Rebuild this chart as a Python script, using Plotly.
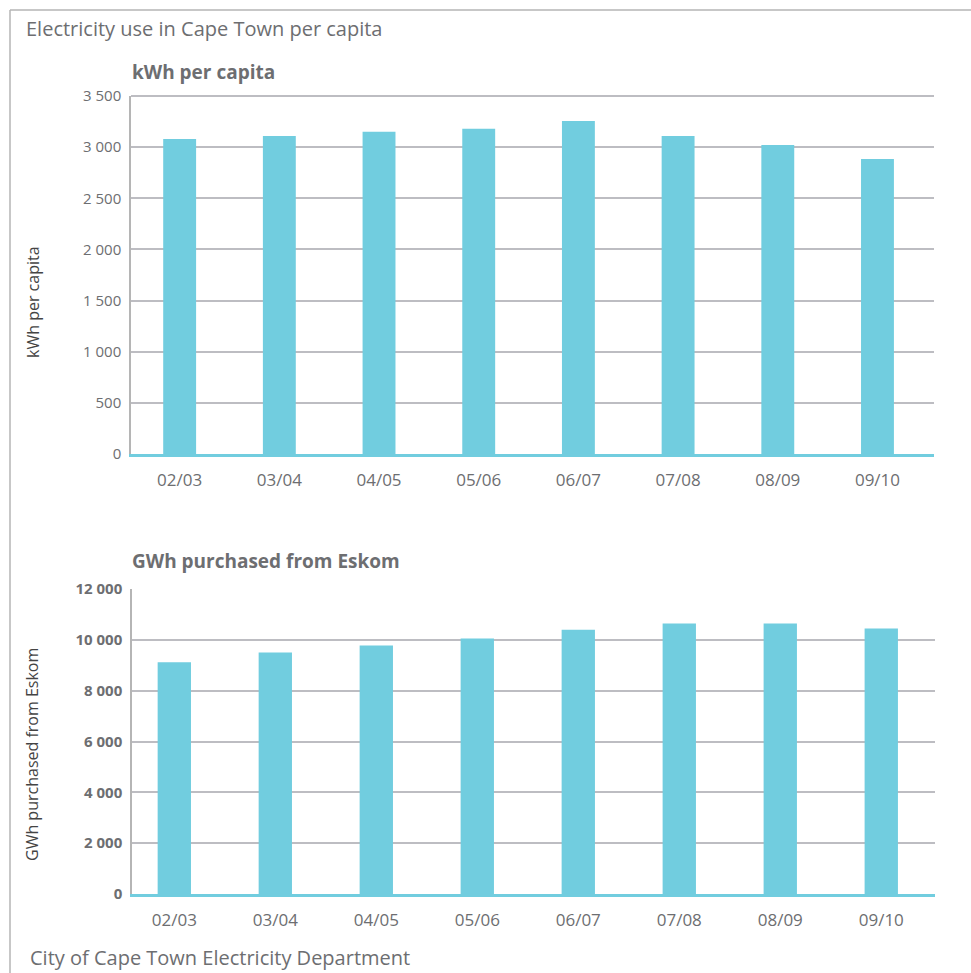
import plotly.graph_objects as go

categories = ["02/03", "03/04", "04/05", "05/06", "06/07", "07/08", "08/09", "09/10"]
kwh_per_capita = [3080, 3110, 3150, 3180, 3255, 3110, 3020, 2885]
gwh_eskom = [9120, 9500, 9780, 10050, 10400, 10640, 10640, 10450]
kwh_ticks = [0, 500, 1000, 1500, 2000, 2500, 3000, 3500]
gwh_ticks = [0, 2000, 4000, 6000, 8000, 10000, 12000]

W, H = 971, 973
BAR = "#71CDDF"
GRID = "#BDBDC2"
TXT = "#6D6E71"
FONT = "Open Sans"

def px(x):
    return x / W

def py(y):
    return 1 - y / H

fig = go.Figure()
fig.add_trace(go.Bar(x=categories, y=kwh_per_capita, marker_color=BAR,
                     marker_line_width=0, xaxis="x", yaxis="y", showlegend=False))
fig.add_trace(go.Bar(x=categories, y=gwh_eskom, marker_color=BAR,
                     marker_line_width=0, xaxis="x2", yaxis="y2", showlegend=False))

common_x = dict(showgrid=False, showline=True, linecolor=BAR, linewidth=3,
                ticks="outside", ticklen=9, tickcolor="rgba(0,0,0,0)",
                tickfont=dict(family=FONT, size=17, color=TXT), fixedrange=True)
common_y = dict(showgrid=True, gridcolor=GRID, gridwidth=2,
                showline=True, linecolor="#B5B5B5", linewidth=1.5,
                zeroline=False, tickformat=",d", fixedrange=True,
                ticks="outside", ticklen=5, tickcolor="rgba(0,0,0,0)")

fig.update_layout(
    width=W, height=H,
    margin=dict(l=0, r=0, t=0, b=0, autoexpand=False),
    paper_bgcolor="white", plot_bgcolor="white",
    separators=". ",
    bargap=0.67,
    font=dict(family=FONT, color=TXT),
    xaxis=dict(domain=[px(131), px(934)], anchor="y", range=[-0.488, 7.567], **common_x),
    yaxis=dict(domain=[py(454), py(96)], anchor="x", range=[0, 3500],
               tickvals=kwh_ticks,
               tickfont=dict(family=FONT, size=15, color=TXT), **common_y),
    xaxis2=dict(domain=[px(132), px(935)], anchor="y2", range=[-0.419, 7.532], **common_x),
    yaxis2=dict(domain=[py(894), py(589)], anchor="x2", range=[0, 12000],
                tickvals=gwh_ticks,
                tickfont=dict(family=FONT, size=15, color=TXT, weight="bold"), **common_y),
)

# gridline at top of top chart
fig.add_shape(type="line", xref="paper", yref="paper",
              x0=px(131), x1=px(934), y0=py(96), y1=py(96),
              line=dict(color=GRID, width=2))

# outer frame (top and left edges)
fig.add_shape(type="line", xref="paper", yref="paper",
              x0=px(10), x1=1.0, y0=py(10), y1=py(10),
              line=dict(color="#B4B4B4", width=1.5))
fig.add_shape(type="line", xref="paper", yref="paper",
              x0=px(10), x1=px(10), y0=py(10), y1=0,
              line=dict(color="#B4B4B4", width=1.5))

annotations = [
    dict(text="Electricity use in Cape Town per capita", x=px(24), y=py(28),
         xanchor="left", font=dict(family=FONT, size=20, color=TXT)),
    dict(text="<b>kWh per capita</b>", x=px(130), y=py(72),
         xanchor="left", font=dict(family=FONT, size=19, color=TXT)),
    dict(text="<b>GWh purchased from Eskom</b>", x=px(130), y=py(561),
         xanchor="left", font=dict(family=FONT, size=19, color=TXT)),
    dict(text="City of Cape Town Electricity Department", x=px(28), y=py(957),
         xanchor="left", font=dict(family=FONT, size=20, color=TXT)),
    dict(text="kWh per capita", x=px(33), y=py(302), textangle=-90,
         xanchor="center", font=dict(family=FONT, size=16, color="#444444")),
    dict(text="GWh purchased from Eskom", x=px(32), y=py(755), textangle=-90,
         xanchor="center", font=dict(family=FONT, size=16, color="#444444")),
]
for a in annotations:
    fig.add_annotation(xref="paper", yref="paper", yanchor="middle",
                       showarrow=False, **a)

fig.write_html("out.html",
               post_script="document.body.style.margin='0';document.body.style.overflow='hidden';")
